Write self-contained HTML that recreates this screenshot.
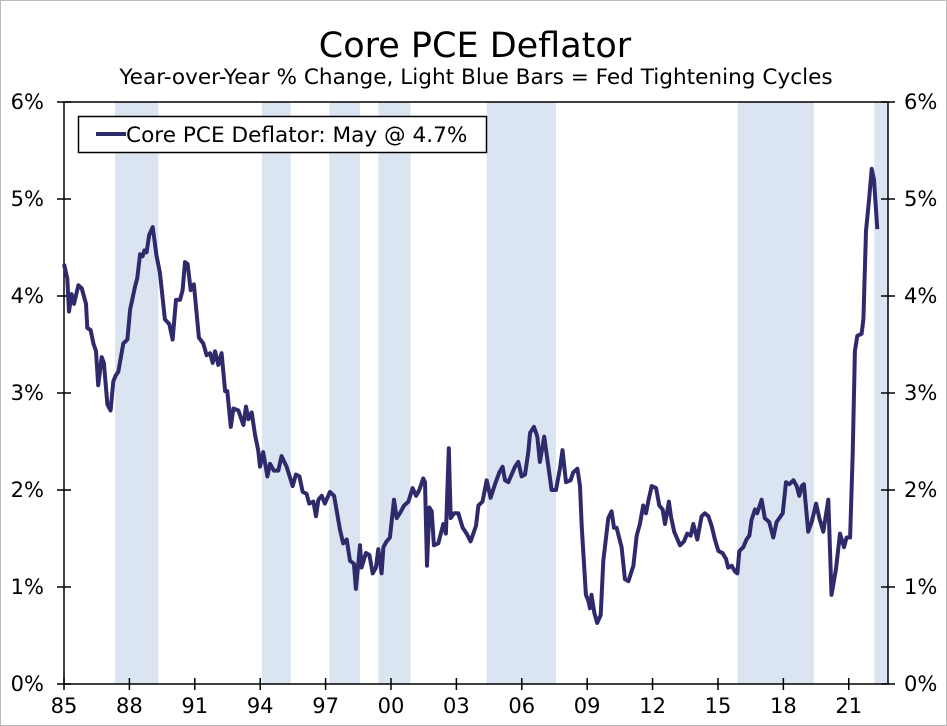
<!DOCTYPE html>
<html><head><meta charset="utf-8"><style>
body{margin:0;background:#fff;}
svg{display:block;font-family:"DejaVu Sans","Liberation Sans",sans-serif;}
</style></head><body>
<svg width="947" height="726" viewBox="0 0 947 726">
<rect x="0.5" y="0.5" width="946" height="725" fill="#fff" stroke="#bbb"/>
<text x="475" y="57" text-anchor="middle" font-size="35" fill="#000">Core PCE Deflator</text>
<text x="476" y="84" text-anchor="middle" font-size="21.6" fill="#000">Year-over-Year % Change, Light Blue Bars = Fed Tightening Cycles</text>
<g id="bands"></g>
<g id="axes"></g>
<path id="line" fill="none" stroke="#2f2a6c" stroke-width="4" stroke-linejoin="round"/>
<g>
<rect x="78.5" y="116.5" width="408" height="36" fill="#fff" stroke="#000" stroke-width="1.5"/>
<line x1="96" y1="134" x2="126" y2="134" stroke="#2f2a6c" stroke-width="4"/>
<text x="126" y="142" font-size="21.6" fill="#000">Core PCE Deflator: May @ 4.7%</text>
</g>
</svg>
<script>
const years = [1985.00,1985.15,1985.23,1985.35,1985.46,1985.66,1985.81,1986.01,1986.07,1986.22,1986.35,1986.47,1986.57,1986.73,1986.83,1986.99,1987.14,1987.26,1987.37,1987.49,1987.72,1987.91,1988.03,1988.26,1988.36,1988.49,1988.61,1988.69,1988.79,1988.91,1989.07,1989.25,1989.40,1989.63,1989.83,1989.98,1990.14,1990.32,1990.44,1990.55,1990.67,1990.81,1990.96,1991.19,1991.39,1991.54,1991.70,1991.82,1991.93,1992.08,1992.23,1992.39,1992.49,1992.65,1992.77,1993.00,1993.23,1993.35,1993.46,1993.61,1993.76,1993.91,1993.99,1994.14,1994.33,1994.45,1994.63,1994.83,1994.98,1995.21,1995.49,1995.64,1995.80,1995.95,1996.13,1996.25,1996.44,1996.56,1996.67,1996.82,1996.97,1997.20,1997.39,1997.66,1997.81,1997.97,1998.12,1998.30,1998.39,1998.58,1998.65,1998.85,1999.01,1999.16,1999.31,1999.42,1999.57,1999.65,1999.80,1999.95,2000.14,2000.26,2000.41,2000.60,2000.80,2000.99,2001.15,2001.30,2001.48,2001.56,2001.65,2001.76,2001.87,2001.97,2002.17,2002.40,2002.52,2002.65,2002.74,2002.89,2003.09,2003.29,2003.47,2003.65,2003.90,2004.01,2004.20,2004.39,2004.57,2004.77,2004.97,2005.12,2005.23,2005.38,2005.69,2005.84,2005.99,2006.15,2006.30,2006.38,2006.56,2006.71,2006.83,2007.03,2007.22,2007.37,2007.57,2007.75,2007.87,2008.03,2008.24,2008.36,2008.55,2008.67,2008.75,2008.94,2009.05,2009.13,2009.20,2009.33,2009.46,2009.62,2009.74,2009.97,2010.12,2010.23,2010.35,2010.58,2010.73,2010.89,2011.12,2011.27,2011.42,2011.57,2011.70,2011.80,2011.96,2012.16,2012.31,2012.46,2012.57,2012.75,2012.84,2012.99,2013.26,2013.44,2013.59,2013.75,2013.87,2014.05,2014.25,2014.40,2014.56,2014.71,2014.86,2015.02,2015.21,2015.37,2015.47,2015.63,2015.78,2015.89,2015.98,2016.16,2016.31,2016.44,2016.54,2016.70,2016.80,2017.00,2017.15,2017.35,2017.54,2017.69,2017.97,2018.12,2018.27,2018.46,2018.61,2018.73,2018.84,2018.94,2019.14,2019.30,2019.50,2019.65,2019.83,2020.06,2020.21,2020.41,2020.60,2020.78,2020.90,2021.06,2021.18,2021.28,2021.39,2021.59,2021.67,2021.79,2021.94,2022.05,2022.16,2022.31];
const values = [4.33,4.18,3.84,4.02,3.92,4.11,4.08,3.92,3.67,3.65,3.51,3.43,3.08,3.37,3.31,2.88,2.82,3.12,3.18,3.22,3.51,3.55,3.86,4.10,4.18,4.43,4.41,4.47,4.45,4.63,4.71,4.41,4.24,3.76,3.71,3.55,3.96,3.96,4.06,4.35,4.33,4.06,4.12,3.57,3.51,3.39,3.41,3.31,3.43,3.29,3.41,3.02,3.02,2.65,2.84,2.82,2.67,2.86,2.73,2.80,2.57,2.41,2.24,2.39,2.14,2.27,2.20,2.20,2.35,2.24,2.04,2.16,2.14,1.98,1.96,1.86,1.88,1.73,1.90,1.94,1.86,1.98,1.94,1.59,1.45,1.49,1.27,1.24,0.98,1.43,1.20,1.35,1.33,1.14,1.20,1.39,1.14,1.41,1.47,1.51,1.90,1.71,1.76,1.84,1.88,2.02,1.94,2.00,2.12,2.08,1.22,1.82,1.78,1.43,1.45,1.65,1.55,2.43,1.71,1.76,1.76,1.61,1.55,1.47,1.63,1.84,1.88,2.10,1.92,2.06,2.18,2.24,2.10,2.08,2.24,2.29,2.14,2.16,2.39,2.59,2.65,2.55,2.29,2.55,2.24,2.00,2.00,2.22,2.41,2.08,2.10,2.18,2.22,2.04,1.63,0.92,0.86,0.78,0.92,0.73,0.63,0.71,1.27,1.71,1.78,1.61,1.61,1.41,1.08,1.06,1.22,1.53,1.65,1.84,1.76,1.88,2.04,2.02,1.84,1.80,1.65,1.88,1.73,1.57,1.43,1.47,1.55,1.53,1.65,1.49,1.73,1.76,1.73,1.63,1.49,1.37,1.35,1.29,1.20,1.22,1.16,1.14,1.37,1.41,1.49,1.53,1.69,1.80,1.76,1.90,1.71,1.67,1.51,1.67,1.76,2.08,2.06,2.10,2.04,1.94,2.04,2.06,1.57,1.67,1.86,1.71,1.57,1.90,0.92,1.18,1.55,1.41,1.51,1.51,2.37,3.43,3.59,3.61,3.76,4.67,5.02,5.31,5.20,4.69];
const bandStarts = [1987.34,1994.08,1997.17,1999.42,2004.39,2015.90,2022.17];
const bandEnds = [1989.33,1995.40,1998.58,2000.90,2007.57,2019.40,2022.80];
const xTickYears = [1985,1988,1991,1994,1997,2000,2003,2006,2009,2012,2015,2018,2021];
const xTickLabels = ["85","88","91","94","97","00","03","06","09","12","15","18","21"];
const yTicks = [0,1,2,3,4,5,6];
const yTickLabels = ["0%","1%","2%","3%","4%","5%","6%"];

const L=64,R=888,T=102,B=684,X0=1985,X1=2022.80,Y0=0,Y1=6;
const xs=v=>L+(v-X0)/(X1-X0)*(R-L);
const ys=v=>B-(v-Y0)/(Y1-Y0)*(B-T);
const NS="http://www.w3.org/2000/svg";
function mk(tag,attrs,parent){const e=document.createElementNS(NS,tag);for(const k in attrs)e.setAttribute(k,attrs[k]);parent.appendChild(e);return e;}
const bands=document.getElementById('bands');
bandStarts.forEach((s,i)=>{
  const r=mk('rect',{x:xs(s),y:T,width:xs(bandEnds[i])-xs(s),height:B-T,fill:'#dbe5f1'},bands);
  
  
});
const ax=document.getElementById('axes');
let a=mk('path',{d:`M${L},${T} H${R} V${B} H${L} Z`,fill:'none',stroke:'#000','stroke-width':1.5},ax);


yTicks.forEach((v,i)=>{
  const y=ys(v);
  let t=mk('line',{x1:L-7,y1:y,x2:L+7,y2:y,stroke:'#000','stroke-width':1.5},ax);
  
  
  t=mk('line',{x1:R-7,y1:y,x2:R+7,y2:y,stroke:'#000','stroke-width':1.5},ax);
  
  
  let tx=mk('text',{x:44,y:y+7,'text-anchor':'end','font-size':21},ax);
  tx.textContent=yTickLabels[i];
  
  
  tx=mk('text',{x:904,y:y+7,'font-size':21},ax);
  tx.textContent=yTickLabels[i];
  
  
});
xTickYears.forEach((v,i)=>{
  const x=xs(v);
  let t=mk('line',{x1:x,y1:B-6,x2:x,y2:B+6,stroke:'#000','stroke-width':1.5},ax);
  
  
  let tx=mk('text',{x:x,y:B+29,'text-anchor':'middle','font-size':21},ax);
  tx.textContent=xTickLabels[i];
  
  
});
document.getElementById('line').setAttribute('d',years.map((yr,i)=>(i?'L':'M')+xs(yr).toFixed(1)+','+ys(values[i]).toFixed(1)).join(' '));
</script>
</body></html>
